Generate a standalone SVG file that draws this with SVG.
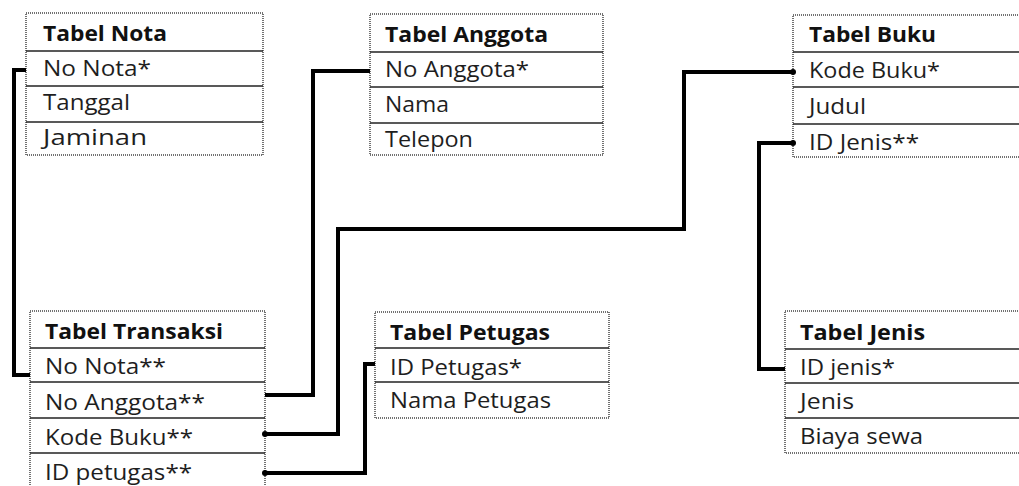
<svg xmlns="http://www.w3.org/2000/svg" width="1019" height="486" viewBox="0 0 1019 486">
<style>
.box{fill:#fff;stroke:#444;stroke-width:1.5;stroke-dasharray:1 1}
.hd{fill:#d3d3d3}
.sep{stroke:#222;stroke-width:1.5}
.t{font-family:"Open Sans","Liberation Sans",sans-serif;font-size:21px;fill:#1e1e1e}
.h{font-weight:bold;fill:#111}
.c{fill:none;stroke:#000;stroke-width:4;stroke-linejoin:miter}
.d{fill:#000}
</style>
<rect width="1019" height="486" fill="#fff"/>
<g id="nota">
<rect class="hd" x="26" y="13" width="237" height="38"/>
<rect class="box" x="26" y="13" width="237" height="142"/>
<line class="sep" x1="26" y1="51" x2="263" y2="51"/>
<line class="sep" x1="26" y1="86" x2="263" y2="86"/>
<line class="sep" x1="26" y1="122" x2="263" y2="122"/>
<text class="t h" x="43" y="41" textLength="124" lengthAdjust="spacingAndGlyphs">Tabel Nota</text>
<text class="t" x="43" y="76" textLength="108" lengthAdjust="spacingAndGlyphs">No Nota*</text>
<text class="t" x="43" y="110" textLength="87" lengthAdjust="spacingAndGlyphs">Tanggal</text>
<text class="t" x="43" y="145" textLength="104" lengthAdjust="spacingAndGlyphs">Jaminan</text>
</g>
<g id="anggota">
<rect class="hd" x="370" y="14" width="233" height="38"/>
<rect class="box" x="370" y="14" width="233" height="141"/>
<line class="sep" x1="370" y1="52" x2="603" y2="52"/>
<line class="sep" x1="370" y1="87" x2="603" y2="87"/>
<line class="sep" x1="370" y1="123" x2="603" y2="123"/>
<text class="t h" x="385" y="42" textLength="163" lengthAdjust="spacingAndGlyphs">Tabel Anggota</text>
<text class="t" x="385" y="77" textLength="144" lengthAdjust="spacingAndGlyphs">No Anggota*</text>
<text class="t" x="385" y="112" textLength="64" lengthAdjust="spacingAndGlyphs">Nama</text>
<text class="t" x="385" y="147" textLength="88" lengthAdjust="spacingAndGlyphs">Telepon</text>
</g>
<g id="buku">
<rect class="hd" x="793" y="15" width="240" height="37"/>
<rect class="box" x="793" y="15" width="240" height="142"/>
<line class="sep" x1="793" y1="52" x2="1033" y2="52"/>
<line class="sep" x1="793" y1="87" x2="1033" y2="87"/>
<line class="sep" x1="793" y1="124" x2="1033" y2="124"/>
<text class="t h" x="809" y="42" textLength="127" lengthAdjust="spacingAndGlyphs">Tabel Buku</text>
<text class="t" x="809" y="78" textLength="131" lengthAdjust="spacingAndGlyphs">Kode Buku*</text>
<text class="t" x="809" y="114" textLength="57" lengthAdjust="spacingAndGlyphs">Judul</text>
<text class="t" x="809" y="150" textLength="110" lengthAdjust="spacingAndGlyphs">ID Jenis**</text>
</g>
<g id="transaksi">
<rect class="hd" x="30" y="311" width="235" height="37"/>
<rect class="box" x="30" y="311" width="235" height="185"/>
<line class="sep" x1="30" y1="348" x2="265" y2="348"/>
<line class="sep" x1="30" y1="382" x2="265" y2="382"/>
<line class="sep" x1="30" y1="418" x2="265" y2="418"/>
<line class="sep" x1="30" y1="453" x2="265" y2="453"/>
<text class="t h" x="45" y="339" textLength="178" lengthAdjust="spacingAndGlyphs">Tabel Transaksi</text>
<text class="t" x="45" y="374" textLength="121" lengthAdjust="spacingAndGlyphs">No Nota**</text>
<text class="t" x="45" y="410" textLength="160" lengthAdjust="spacingAndGlyphs">No Anggota**</text>
<text class="t" x="45" y="445" textLength="148" lengthAdjust="spacingAndGlyphs">Kode Buku**</text>
<text class="t" x="45" y="480" textLength="147" lengthAdjust="spacingAndGlyphs">ID petugas**</text>
</g>
<g id="petugas">
<rect class="hd" x="375" y="312" width="234" height="36"/>
<rect class="box" x="375" y="312" width="234" height="106"/>
<line class="sep" x1="375" y1="348" x2="609" y2="348"/>
<line class="sep" x1="375" y1="382" x2="609" y2="382"/>
<text class="t h" x="390" y="340" textLength="160" lengthAdjust="spacingAndGlyphs">Tabel Petugas</text>
<text class="t" x="390" y="375" textLength="132" lengthAdjust="spacingAndGlyphs">ID Petugas*</text>
<text class="t" x="390" y="408" textLength="161" lengthAdjust="spacingAndGlyphs">Nama Petugas</text>
</g>
<g id="jenis">
<rect class="hd" x="785" y="311" width="250" height="38"/>
<rect class="box" x="785" y="311" width="250" height="142"/>
<line class="sep" x1="785" y1="349" x2="1035" y2="349"/>
<line class="sep" x1="785" y1="383" x2="1035" y2="383"/>
<line class="sep" x1="785" y1="418" x2="1035" y2="418"/>
<text class="t h" x="800" y="340" textLength="125" lengthAdjust="spacingAndGlyphs">Tabel Jenis</text>
<text class="t" x="800" y="375" textLength="95" lengthAdjust="spacingAndGlyphs">ID jenis*</text>
<text class="t" x="800" y="409" textLength="54" lengthAdjust="spacingAndGlyphs">Jenis</text>
<text class="t" x="800" y="444" textLength="123" lengthAdjust="spacingAndGlyphs">Biaya sewa</text>
</g>
<g id="connectors">
<polyline class="c" points="26,70 14,70 14,375 30,375"/>
<polyline class="c" points="370,71 313,71 313,395 265,395"/>
<polyline class="c" points="793,72 684,72 684,229 338,229 338,434 265,434"/>
<polyline class="c" points="375,364 365,364 365,473 265,473"/>
<polyline class="c" points="793,143 759,143 759,369 785,369"/>
<circle class="d" cx="265" cy="434" r="3"/>
<circle class="d" cx="265" cy="473" r="3"/>
<circle class="d" cx="793" cy="72" r="3"/>
<circle class="d" cx="793" cy="143" r="3"/>
</g>
</svg>
